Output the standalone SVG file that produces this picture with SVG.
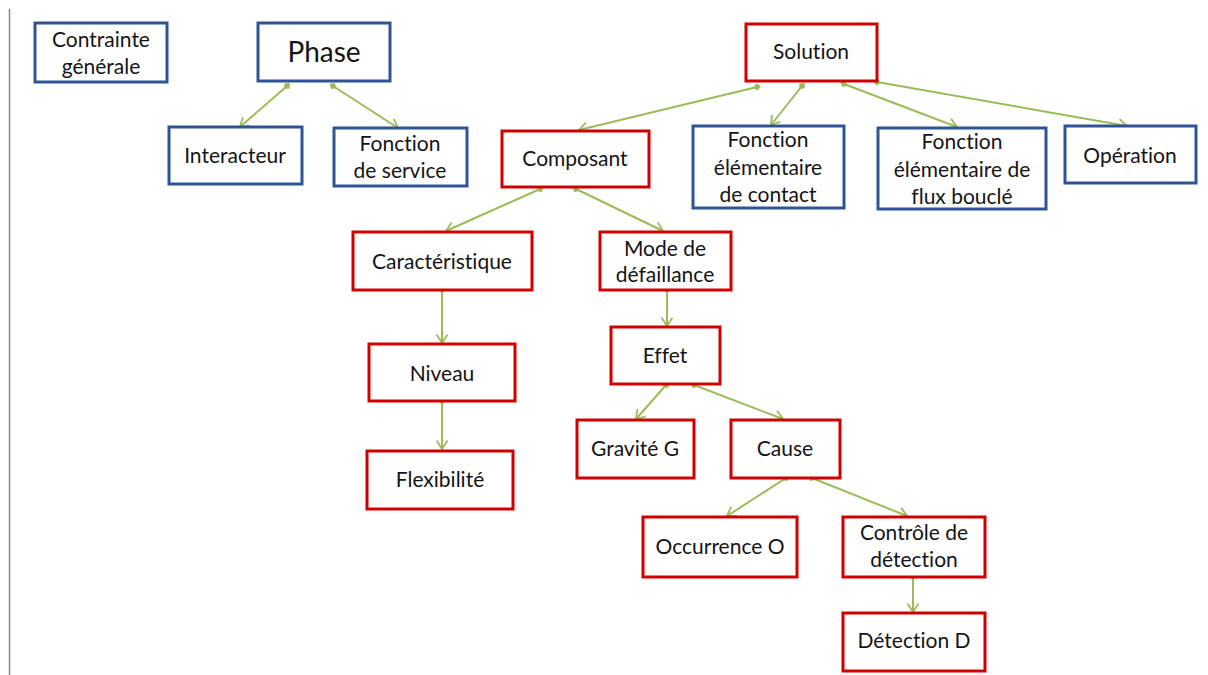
<svg xmlns="http://www.w3.org/2000/svg" width="1208" height="675" viewBox="0 0 1208 675">
<style>
.b{fill:#fff;stroke:#2F5496;stroke-width:3}
.r{fill:#fff;stroke:#D00000;stroke-width:3}
text{font-family:Lato,"Open Sans","Liberation Sans",sans-serif;font-size:21px;fill:#141414;text-anchor:middle;font-variant-ligatures:none;font-feature-settings:"liga" 0}
.big{font-size:28px}
.c line{stroke:#9BBB59;stroke-width:2;marker-start:url(#dot);marker-end:url(#arr)}
</style>
<defs>
<marker id="dot" viewBox="-5 -5 10 10" markerWidth="10" markerHeight="10" markerUnits="userSpaceOnUse" orient="auto">
<path d="M-4 0 L0 -3.6 L4 0 L0 3.6Z" fill="#9BBB59"/>
</marker>
<marker id="arr" viewBox="-11 -7 13 14" markerWidth="13" markerHeight="14" markerUnits="userSpaceOnUse" orient="auto">
<path d="M-8.5 -5.5 L0 0 L-8.5 5.5" fill="none" stroke="#9BBB59" stroke-width="1.8"/>
</marker>
</defs>
<rect width="1208" height="675" fill="#fff"/>
<line x1="9.5" y1="9" x2="9.5" y2="675" stroke="#888" stroke-width="1.5"/>

<g class="c" id="connectors">
<line x1="287" y1="86" x2="240" y2="127"/>
<line x1="333" y1="86" x2="398" y2="128"/>
<line x1="757" y1="87" x2="579" y2="130"/>
<line x1="802" y1="86" x2="771" y2="125"/>
<line x1="844" y1="84" x2="957" y2="127"/>
<line x1="877" y1="82" x2="1127" y2="126"/>
<line x1="540" y1="189" x2="446" y2="231"/>
<line x1="576" y1="189" x2="663" y2="231"/>
<line x1="442" y1="290" x2="442" y2="343"/>
<line x1="442" y1="401" x2="442" y2="449"/>
<line x1="667" y1="290" x2="667" y2="326"/>
<line x1="666" y1="385" x2="636" y2="419"/>
<line x1="694" y1="385" x2="783" y2="419"/>
<line x1="786" y1="478" x2="727" y2="516"/>
<line x1="812" y1="478" x2="907" y2="516"/>
<line x1="913" y1="577" x2="913" y2="612"/>
</g>

<g id="contrainte"><rect class="b" x="35" y="23" width="132" height="59"/><text x="101" y="47">Contrainte</text><text x="101" y="74">générale</text></g>
<g id="phase"><rect class="b" x="258" y="23" width="132" height="58"/><text class="big" x="324" y="62">Phase</text></g>
<g id="interacteur"><rect class="b" x="169" y="127" width="133" height="57"/><text x="235" y="163">Interacteur</text></g>
<g id="fonction-service"><rect class="b" x="334" y="128" width="133" height="58"/><text x="400" y="151">Fonction</text><text x="400" y="178">de service</text></g>
<g id="solution"><rect class="r" x="746" y="24" width="131" height="57"/><text x="811" y="59">Solution</text></g>
<g id="composant"><rect class="r" x="502" y="131" width="147" height="56"/><text x="575" y="166">Composant</text></g>
<g id="fe-contact"><rect class="b" x="693" y="126" width="151" height="82"/><text x="768" y="147">Fonction</text><text x="768" y="175">élémentaire</text><text x="768" y="202">de contact</text></g>
<g id="fe-flux"><rect class="b" x="878" y="128" width="168" height="81"/><text x="962" y="149">Fonction</text><text x="962" y="177">élémentaire de</text><text x="962" y="204">flux bouclé</text></g>
<g id="operation"><rect class="b" x="1065" y="126" width="131" height="57"/><text x="1130" y="163">Opération</text></g>
<g id="caracteristique"><rect class="r" x="353" y="232" width="179" height="58"/><text x="442" y="269">Caractéristique</text></g>
<g id="mode"><rect class="r" x="600" y="232" width="131" height="58"/><text x="665" y="256">Mode de</text><text x="665" y="282">défaillance</text></g>
<g id="niveau"><rect class="r" x="369" y="344" width="146" height="57"/><text x="442" y="381">Niveau</text></g>
<g id="effet"><rect class="r" x="611" y="327" width="109" height="57"/><text x="665" y="363">Effet</text></g>
<g id="flexibilite"><rect class="r" x="367" y="451" width="146" height="58"/><text x="440" y="487">Flexibilité</text></g>
<g id="gravite"><rect class="r" x="577" y="420" width="117" height="58"/><text x="635" y="456">Gravité G</text></g>
<g id="cause"><rect class="r" x="731" y="420" width="109" height="58"/><text x="785" y="456">Cause</text></g>
<g id="occurrence"><rect class="r" x="643" y="517" width="154" height="60"/><text x="720" y="554">Occurrence O</text></g>
<g id="controle"><rect class="r" x="843" y="517" width="142" height="60"/><text x="914" y="540">Contrôle de</text><text x="914" y="567">détection</text></g>
<g id="detection"><rect class="r" x="843" y="613" width="142" height="58"/><text x="914" y="648">Détection D</text></g>
</svg>
